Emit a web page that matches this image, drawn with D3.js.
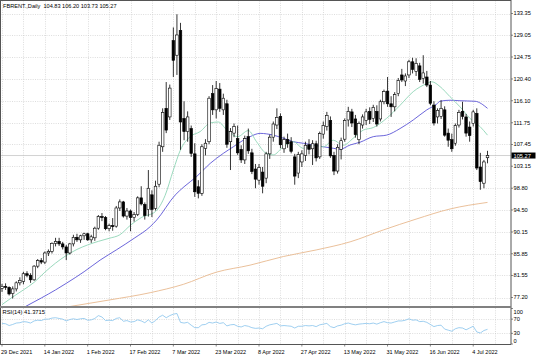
<!DOCTYPE html>
<html><head><meta charset="utf-8">
<script src="https://cdn.jsdelivr.net/npm/d3@7"></script>
<style>
html,body{margin:0;padding:0;background:#fff;}
svg{display:block;font-family:"Liberation Sans",Arial,sans-serif;}
</style></head><body>
<svg id="c" width="536" height="355"></svg>
<script>
// ---- data ----
const dates = ["2021-12-29","2021-12-30","2021-12-31",
"2022-01-03","2022-01-04","2022-01-05","2022-01-06","2022-01-07","2022-01-10","2022-01-11","2022-01-12","2022-01-13","2022-01-14","2022-01-17","2022-01-18","2022-01-19","2022-01-20","2022-01-21","2022-01-24","2022-01-25","2022-01-26","2022-01-27","2022-01-28","2022-01-31",
"2022-02-01","2022-02-02","2022-02-03","2022-02-04","2022-02-07","2022-02-08","2022-02-09","2022-02-10","2022-02-11","2022-02-14","2022-02-15","2022-02-16","2022-02-17","2022-02-18","2022-02-21","2022-02-22","2022-02-23","2022-02-24","2022-02-25","2022-02-28",
"2022-03-01","2022-03-02","2022-03-03","2022-03-04","2022-03-07","2022-03-08","2022-03-09","2022-03-10","2022-03-11","2022-03-14","2022-03-15","2022-03-16","2022-03-17","2022-03-18","2022-03-21","2022-03-22","2022-03-23","2022-03-24","2022-03-25","2022-03-28","2022-03-29","2022-03-30","2022-03-31",
"2022-04-01","2022-04-04","2022-04-05","2022-04-06","2022-04-07","2022-04-08","2022-04-11","2022-04-12","2022-04-13","2022-04-14","2022-04-18","2022-04-19","2022-04-20","2022-04-21","2022-04-22","2022-04-25","2022-04-26","2022-04-27","2022-04-28","2022-04-29",
"2022-05-02","2022-05-03","2022-05-04","2022-05-05","2022-05-06","2022-05-09","2022-05-10","2022-05-11","2022-05-12","2022-05-13","2022-05-16","2022-05-17","2022-05-18","2022-05-19","2022-05-20","2022-05-23","2022-05-24","2022-05-25","2022-05-26","2022-05-27","2022-05-30","2022-05-31",
"2022-06-01","2022-06-02","2022-06-03","2022-06-06","2022-06-07","2022-06-08","2022-06-09","2022-06-10","2022-06-13","2022-06-14","2022-06-15","2022-06-16","2022-06-17","2022-06-20","2022-06-21","2022-06-22","2022-06-23","2022-06-24","2022-06-27","2022-06-28","2022-06-29","2022-06-30",
"2022-07-01","2022-07-04","2022-07-05","2022-07-06","2022-07-07","2022-07-08"];

const open = [79.0,79.4,79.2,78.0,78.9,80.1,80.4,81.9,81.6,80.7,83.4,84.5,84.2,86.0,86.3,87.9,88.3,87.8,87.2,86.0,87.8,89.1,88.6,89.4,
89.8,88.6,89.0,90.9,93.2,93.0,90.8,91.4,91.3,94.9,96.1,93.3,94.3,93.0,93.6,96.9,95.6,94.6,97.5,94.8,
99.6,107.0,114.6,112.9,128.0,125.1,130.0,112.6,110.0,110.6,105.6,99.1,97.8,106.7,108.0,117.5,114.3,118.4,114.3,115.5,108.0,109.7,108.6,
106.5,104.4,109.0,105.8,102.6,100.4,102.0,100.8,105.6,108.9,111.3,113.0,106.6,108.4,108.0,105.0,101.8,104.0,105.3,107.4,
106.6,107.6,105.0,109.5,111.0,112.2,105.3,102.2,106.5,108.5,112.3,113.9,112.5,108.4,111.3,112.2,114.0,112.6,114.0,112.5,115.9,118.0,
115.5,114.9,117.5,121.2,120.0,121.2,123.8,121.9,123.0,120.5,120.8,119.2,115.25,112.9,113.0,114.3,109.7,108.4,107.7,111.3,114.0,112.9,
110.9,111.6,113.6,103.0,99.8,104.83];
const high = [79.9,80.0,79.4,79.4,80.4,81.2,82.3,82.4,82.0,83.6,84.8,85.0,86.3,86.7,88.1,89.0,89.0,88.2,87.6,88.0,89.6,89.8,89.6,90.0,
90.0,89.6,91.2,93.5,93.9,93.3,91.8,92.9,95.3,96.6,96.3,94.9,94.6,94.1,97.2,99.2,96.0,102.4,98.4,100.3,
108.0,114.6,119.8,119.3,130.6,133.2,131.5,116.0,114.0,111.2,107.7,100.4,107.5,108.5,117.0,119.2,120.0,119.6,117.5,116.3,110.7,111.6,111.2,
107.3,109.2,110.6,106.6,103.6,103.6,103.0,106.0,109.4,112.0,114.6,113.6,109.0,109.6,108.9,105.6,106.0,106.3,108.0,108.5,
108.3,108.2,110.0,112.0,113.9,113.0,106.0,107.5,108.8,112.6,114.9,114.5,113.3,112.0,113.4,114.5,114.8,115.3,115.2,116.3,118.3,120.8,
117.0,117.8,120.6,122.4,121.5,124.2,124.6,124.5,123.6,125.1,122.0,120.0,116.0,114.6,116.2,115.0,110.6,109.6,111.6,114.3,115.9,113.5,
112.0,114.3,114.6,105.8,104.4,106.20];
const low = [78.3,78.7,77.6,77.0,78.4,79.6,79.8,81.2,80.1,80.5,83.0,83.8,83.8,85.4,85.9,87.3,87.4,86.7,84.6,85.7,87.3,88.2,88.0,88.6,
88.4,88.0,88.4,90.6,92.3,90.5,90.3,90.4,91.0,94.3,93.0,92.6,90.3,92.2,93.3,95.4,92.6,93.2,93.1,94.4,
99.0,106.0,109.7,112.3,120.8,121.2,106.4,108.3,108.0,105.0,97.1,96.8,97.3,105.3,107.5,113.3,112.6,113.9,113.3,106.8,102.4,108.9,105.4,
103.8,103.6,105.6,101.6,98.8,99.5,97.8,99.8,104.6,108.0,110.5,106.7,105.8,106.8,105.7,99.5,100.8,103.0,104.2,105.5,
103.4,104.1,104.6,108.6,110.2,104.8,101.4,101.7,104.5,108.0,111.0,110.9,108.8,107.5,110.6,111.3,111.5,111.9,111.0,112.0,115.4,114.9,
112.9,114.0,117.0,119.8,119.0,120.6,121.5,121.0,119.8,119.5,118.8,115.2,111.2,111.6,112.5,109.0,107.0,106.0,107.2,110.8,112.4,109.0,
108.0,111.0,102.4,98.5,98.8,103.73];
const close = [79.4,79.2,77.9,78.9,80.1,80.6,81.9,81.6,80.7,83.4,84.5,84.2,86.0,86.3,87.9,88.3,87.8,87.2,86.0,87.8,89.1,88.6,89.4,89.8,
88.6,89.2,90.9,93.2,93.0,90.8,91.4,91.2,94.9,96.1,93.3,94.3,93.0,93.6,96.9,95.7,93.4,98.8,94.6,99.2,
107.3,113.8,110.3,118.6,124.1,129.1,111.9,110.0,112.9,105.7,98.1,97.8,107.0,107.7,116.6,114.3,118.5,114.6,116.6,107.5,110.0,111.0,105.8,
104.4,108.6,106.2,102.1,100.6,102.9,99.2,105.6,108.9,111.5,112.8,107.4,108.4,107.6,106.1,101.2,105.5,105.6,107.3,106.5,
107.6,104.8,109.6,111.2,113.2,105.2,102.2,106.9,108.2,112.2,114.0,111.7,109.4,111.6,112.9,113.9,112.4,114.8,111.5,115.9,117.9,115.5,
114.9,117.3,120.1,120.2,121.0,123.8,122.3,123.5,120.3,121.6,119.2,115.6,111.7,114.2,114.6,109.3,108.3,106.6,111.2,113.8,113.0,109.7,
109.2,113.9,102.8,100.1,104.0,105.27];

// moving averages at sample bars: [bar index, value]
const maFast = [[0,75.8],[3,77.3],[6,78.7],[9,80.2],[12,82.2],[15,84.0],[18,85.5],[21,86.7],[24,87.6],[27,88.3],[30,88.9],[33,89.6],[36,91.5],[39,93.0],[43,94.2],[45.7,97.4],[48,102.4],[50,106.4],[52.7,109.0],[55.5,110.0],[58.3,111.7],[60.6,111.9],[63,110.3],[66,109.0],[69,110.2],[71.3,108.0],[74,105.7],[76,105.4],[78.8,107.0],[81.6,108.0],[84.4,106.7],[87.2,107.3],[90,107.0],[92.8,108.3],[95.6,107.3],[98.4,108.7],[101.2,110.3],[104,110.8],[107.7,112.6],[111.5,115.2],[115.2,117.9],[119,119.5],[120.4,119.85],[122.7,118.9],[125.5,116.9],[128.3,114.9],[131.1,112.6],[133.9,111.0],[136,109.3]];
const maMid = [[6,75.2],[11,77.1],[15,78.7],[18,80.0],[23,82.3],[27.5,84.6],[32,86.6],[37,88.9],[41.5,91.2],[43.3,92.5],[48.5,97.45],[51,99.1],[54.5,101.1],[58.3,103.7],[62,105.7],[64.8,107.0],[67.6,108.3],[69.5,109.0],[72.3,109.65],[76,109.3],[78.8,108.7],[81.6,108.0],[84.4,107.7],[87.2,107.35],[90,107.0],[92.8,106.7],[94.7,106.5],[97.5,107.35],[100.3,107.9],[104,109.0],[107.7,109.3],[111.5,110.6],[115.2,112.3],[119,114.3],[121.8,115.45],[122.7,116.0],[125.5,116.2],[128.3,116.1],[132.5,116.0],[136,114.6]];
const maSlow = [[18,75.3],[30,76.7],[41.5,78.15],[50.8,79.8],[60,82.2],[69.5,83.6],[78.8,85.3],[88,86.6],[97.5,88.2],[106.8,90.55],[116,92.7],[125.5,94.7],[136,96.0]];

const rsi = [58,57,52,55,59,60,63,62,59,65,67,66,70,70,73,74,72,70,65,69,71,69,71,72,
67,68,72,80,76,66,67,66,72,74,64,66,62,63,68,65,60,68,59,66,
76,81,74,80,84,86,61,59,61,53,46,46,54,55,61,59,62,58,60,51,54,55,50,
48,52,50,46,44,45,43,50,54,56,58,51,52,51,50,45,50,50,52,51,
52,49,54,56,58,49,46,51,53,57,59,56,54,56,57,58,57,59,56,60,63,60,
59,62,65,65,67,71,67,68,63,64,61,55,49,52,53,42,39,36,43,46,45,40,
45,50,34,31,38,41.37];

const priceTicks = [133.35,129.05,124.75,120.40,116.10,111.75,107.45,103.15,98.80,94.50,90.15,85.85,81.55,77.20];
const rsiTicks = [100,70,30,0];
const rsiLevels = [70,30];
const dateLabels = ["29 Dec 2021","14 Jan 2022","1 Feb 2022","17 Feb 2022","7 Mar 2022","23 Mar 2022","8 Apr 2022","27 Apr 2022","13 May 2022","31 May 2022","16 Jun 2022","4 Jul 2022"];
const dateLabelKeys = ["2021-12-29","2022-01-14","2022-02-01","2022-02-17","2022-03-07","2022-03-23","2022-04-08","2022-04-27","2022-05-13","2022-05-31","2022-06-16","2022-07-04"];
const title = "FBRENT.,Daily  104.83 106.20 103.73 105.27";
const rsiTitle = "RSI(14) 41.3715";
const lastPrice = 105.27;

// ---- layout ----
const L = 0.5, R = 511, mainTop = 0.5, mainBot = 306, rsiTop = 308, rsiBot = 344.5;
const svg = d3.select("#c");
const xi = d3.scaleLinear().domain([0, dates.length - 1]).range([2, 487.5]);
const y = d3.scaleLinear().domain([77.20, 133.35]).range([297.5, 13.5]);
const yr = d3.scaleLinear().domain([0, 100]).range([344, 308.5]);
const gridCol = "#c6c6c6";

svg.append("rect").attr("width",536).attr("height",355).attr("fill","#fff");

const defs = svg.append("defs");
defs.append("clipPath").attr("id","cm").append("rect").attr("x",L).attr("y",mainTop).attr("width",R-L).attr("height",mainBot-mainTop);
defs.append("clipPath").attr("id","cr").append("rect").attr("x",L).attr("y",rsiTop).attr("width",R-L).attr("height",rsiBot-rsiTop);

// vertical grid every 6 bars (continues into empty right margin)
const gridBars = d3.range(0, 139, 6);
const gv = svg.append("g").attr("stroke",gridCol).attr("stroke-width",0.6).attr("stroke-dasharray","1,1.3");
gridBars.forEach(b => {
  const gx = Math.round(xi(b)) + 0.5;
  if (gx > L + 1 && gx < R) {
    gv.append("line").attr("x1",gx).attr("x2",gx).attr("y1",mainTop).attr("y2",mainBot);
    gv.append("line").attr("x1",gx).attr("x2",gx).attr("y1",rsiTop).attr("y2",rsiBot);
  }
});
// horizontal grid at price ticks
priceTicks.forEach(p => {
  gv.append("line").attr("x1",L).attr("x2",R).attr("y1",Math.round(y(p))+0.5).attr("y2",Math.round(y(p))+0.5);
});
// RSI levels
rsiLevels.forEach(v => {
  gv.append("line").attr("x1",L).attr("x2",R).attr("y1",Math.round(yr(v))+0.5).attr("y2",Math.round(yr(v))+0.5);
});

// last price line
svg.append("line").attr("x1",L).attr("x2",R).attr("y1",y(lastPrice)).attr("y2",y(lastPrice))
  .attr("stroke","#c0c0c0").attr("stroke-width",0.7);

// moving averages
const mg = svg.append("g").attr("clip-path","url(#cm)").attr("fill","none");
const maLine = d3.line().x(d => xi(d[0])).y(d => y(d[1])).curve(d3.curveMonotoneX);
mg.append("path").attr("d", maLine(maSlow)).attr("stroke","#e8b98e").attr("stroke-width",0.9);
mg.append("path").attr("d", maLine(maMid)).attr("stroke","#5b55d6").attr("stroke-width",0.9);
mg.append("path").attr("d", maLine(maFast)).attr("stroke","#8fd5b5").attr("stroke-width",0.9);

// candles
const cg = svg.append("g").attr("clip-path","url(#cm)");
const bw = 2.6;
dates.forEach((d, i) => {
  const cx = xi(i);
  const o = open[i], c = close[i];
  cg.append("line").attr("x1",cx).attr("x2",cx).attr("y1",y(high[i])).attr("y2",y(low[i]))
    .attr("stroke","#000").attr("stroke-width",0.8);
  const top = y(Math.max(o,c)), bot = y(Math.min(o,c));
  const up = c >= o;
  cg.append("rect").attr("x",cx - bw/2).attr("y",top).attr("width",bw).attr("height",Math.max(0.8, bot - top))
    .attr("fill", up ? "#fff" : "#000").attr("stroke","#000").attr("stroke-width",0.6);
});

// RSI line
const rg = svg.append("g").attr("clip-path","url(#cr)");
rg.append("path").attr("d", d3.line().x((d,i)=>xi(i)).y(d=>yr(d))(rsi))
  .attr("fill","none").attr("stroke","#86c3ec").attr("stroke-width",0.8);

// frames
const fc = "#555";
svg.append("line").attr("x1",L).attr("x2",L).attr("y1",0).attr("y2",rsiBot).attr("stroke",fc).attr("stroke-width",1);
svg.append("line").attr("x1",0).attr("x2",R).attr("y1",mainTop).attr("y2",mainTop).attr("stroke",fc).attr("stroke-width",1);
svg.append("line").attr("x1",R).attr("x2",R).attr("y1",0).attr("y2",rsiBot).attr("stroke",fc).attr("stroke-width",1);
svg.append("line").attr("x1",0).attr("x2",R).attr("y1",307).attr("y2",307).attr("stroke","#808080").attr("stroke-width",2);
svg.append("line").attr("x1",0).attr("x2",R).attr("y1",rsiBot).attr("y2",rsiBot).attr("stroke",fc).attr("stroke-width",1);

// price axis
const fs = 5.7;
const pa = svg.append("g").attr("font-size",fs).attr("fill","#000");
priceTicks.forEach(p => {
  svg.append("line").attr("x1",R).attr("x2",R+2).attr("y1",y(p)).attr("y2",y(p)).attr("stroke",fc).attr("stroke-width",0.7);
  pa.append("text").attr("x",R+2.5).attr("y",y(p)).attr("dy","0.35em").text(d3.format(".2f")(p));
});
// last price box
svg.append("rect").attr("x",R+0.5).attr("y",y(lastPrice)-3).attr("width",24).attr("height",6).attr("fill","#000");
svg.append("text").attr("x",R+2.5).attr("y",y(lastPrice)).attr("dy","0.35em").attr("font-size",fs).attr("fill","#fff")
  .text(d3.format(".2f")(lastPrice));

// rsi axis labels
rsiTicks.forEach(v => {
  const ty = Math.min(rsiBot - 3.6, Math.max(rsiTop + 3.6, yr(v)));
  svg.append("line").attr("x1",R).attr("x2",R+2).attr("y1",yr(v)).attr("y2",yr(v)).attr("stroke",fc).attr("stroke-width",0.7);
  pa.append("text").attr("x",R+2.5).attr("y",ty).attr("dy","0.35em").text(v);
});

// date axis
const da = svg.append("g").attr("font-size",5.5).attr("fill","#000");
dateLabelKeys.forEach((k, j) => {
  const i = dates.indexOf(k);
  const tx = xi(i);
  svg.append("line").attr("x1",tx).attr("x2",tx).attr("y1",rsiBot).attr("y2",rsiBot+2).attr("stroke",fc).attr("stroke-width",0.7);
  da.append("text").attr("x",tx - 1).attr("y",353.5).text(dateLabels[j]);
});

// titles
svg.append("text").attr("x",3).attr("y",7.6).attr("font-size",5.6).attr("fill","#000").attr("xml:space","preserve").style("white-space","pre").text(title);
svg.append("text").attr("x",2.5).attr("y",313.8).attr("font-size",5.8).attr("fill","#000").text(rsiTitle);
</script>
</body></html>
